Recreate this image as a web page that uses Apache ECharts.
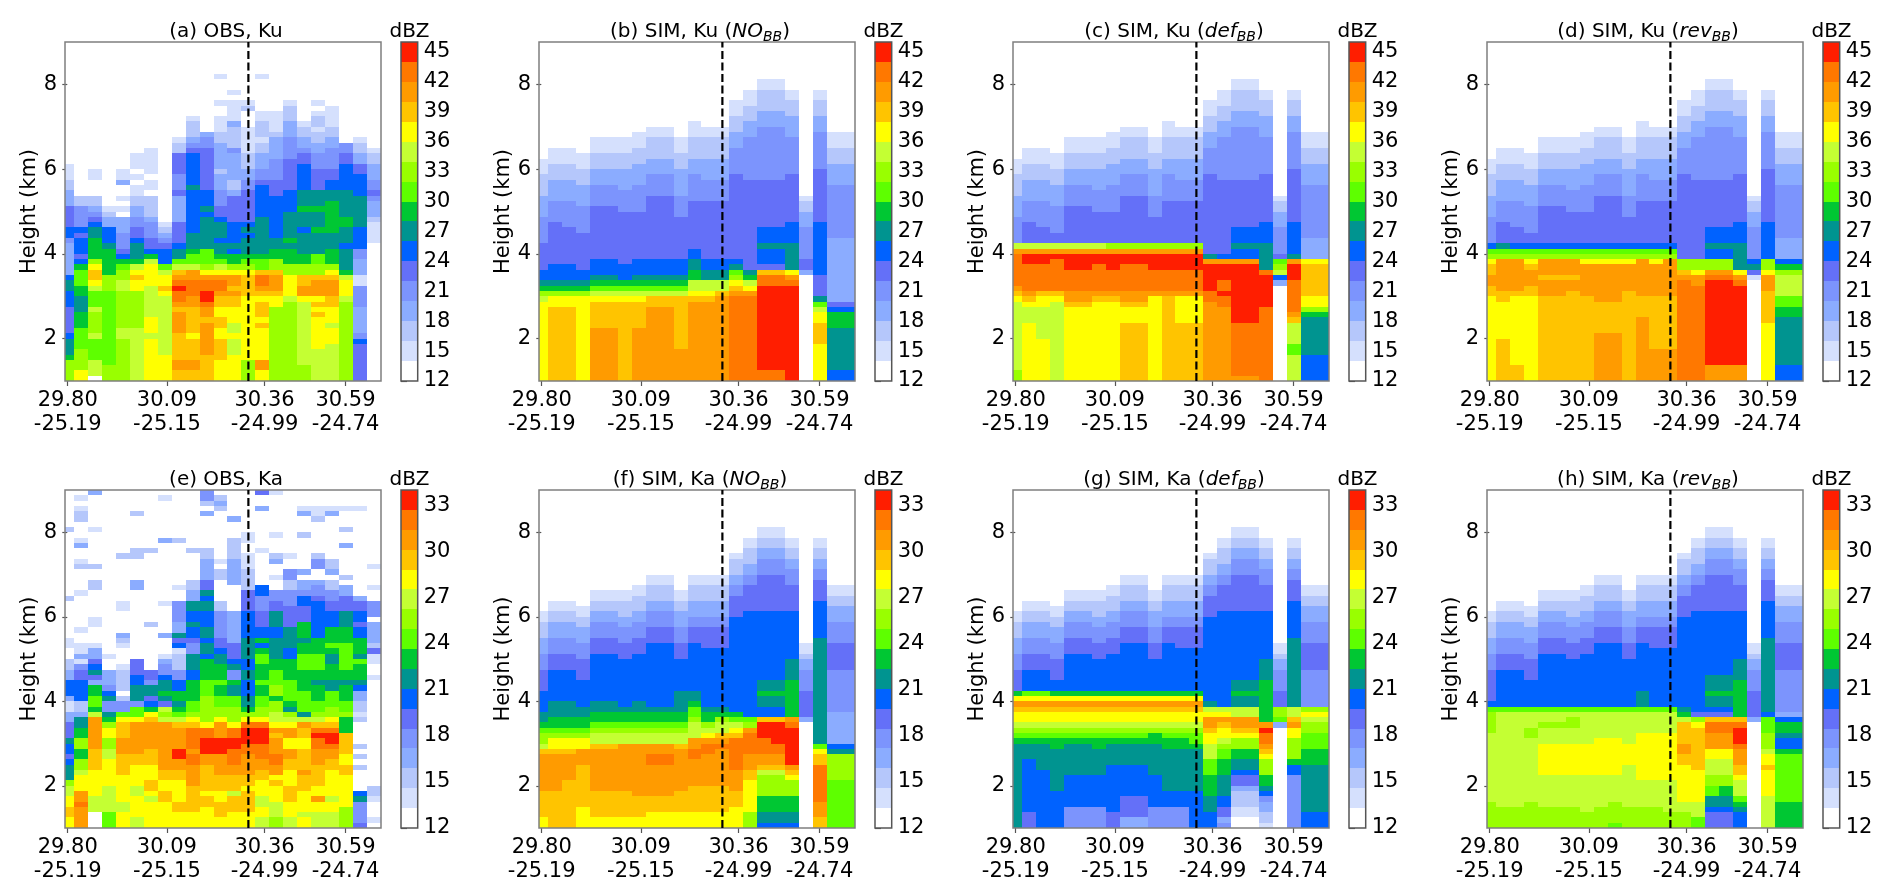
<!DOCTYPE html>
<html><head><meta charset="utf-8">
<style>html,body{margin:0;padding:0;background:#fff}#c{width:1892px;height:895px}</style>
<script src="https://cdn.jsdelivr.net/npm/echarts@6/dist/echarts.min.js"></script>
</head><body><div id="c"></div>
<script>
// Level letters A..Q are colour classes; each token "X24" = class X up to range-gate 24 (gates count upward from 1 km, 1/8 km each).
const LEVELS = ['#ffffff','#d5e0fd','#b5c7fb','#8bacff','#7c94fd','#6470f8','#0062ff','#009490','#00c733','#5eff00','#99ff00','#c4ff33','#ffff00','#ffc400','#ff9b00','#ff7800','#ff1e00'];
const X_TICKS = [0.03, 7.15, 14.16, 19.97];
const X_LAT = ['29.80','30.09','30.36','30.59'];
const X_LON = ['-25.19','-25.15','-24.99','-24.74'];
const Y_TICKS = [2,4,6,8];
const KU_TICKS = [12,15,18,21,24,27,30,33,36,39,42,45];
const KA_TICKS = [12,15,18,21,24,27,30,33];
const DASH_COLUMN = 13;
const TITLES = ['(a) OBS, Ku','(b) SIM, Ku ({i|NO}{s|BB})','(c) SIM, Ku ({i|def}{s|BB})','(d) SIM, Ku ({i|rev}{s|BB})','(e) OBS, Ka','(f) SIM, Ka ({i|NO}{s|BB})','(g) SIM, Ka ({i|def}{s|BB})','(h) SIM, Ka ({i|rev}{s|BB})'];

const ICE_KU = ['F26 E31 D35 C39 B42','F30 E34 D38 C41 B44','F29 E34 D38 C41 B44','F28 E33 D37 C40 B43','F33 E37 D40 C43 B46','F33 E37 D40 C43 B46','F32 E36 D40 C43 B46','F32 E37 D41 C44 B47','F35 E39 D42 C46 B48','F35 E39 D42 C46 B48','F31 E35 D40 C43 B46','F34 E39 D42 C46 B49','F34 E38 D42 C46 B48','F34 E38 D42 C46 B48','F39 E44 D47 C50 B53','F38 E46 D49 C52 B55','F38 E48 D51 C55 B57','F38 E48 D51 C55 B57','F39 E46 D50 C53 B55','E29 D32 C34 B35','F40 E47 D50 C53 B55','D27 E37 D41 C44 B47','D27 E37 D41 C44 B47'];
const ICE_KA = ['G26 F30 E33 D36 C39 B41','G30 F33 E36 D39 C41 B43','G30 F33 E36 D39 C41 B43','G28 F32 E35 D38 C40 B42','G33 F36 E39 D41 C43 B45','G33 F36 E39 D41 C43 B45','G32 F35 E38 D40 C43 B45','G33 F36 E39 D41 C44 B46','G35 F38 E41 D43 C46 B48','G35 F38 E41 D43 C46 B48','G32 F35 E38 D41 C43 B45','G35 F38 E40 D43 C46 B48','G34 F38 E40 D43 C46 B48','G34 F38 E40 D43 C46 B48','G40 F44 E46 D48 C51 B52','G41 F46 E48 D50 C53 B55','G41 F48 E51 D53 C55 B57','G41 F48 E51 D53 C55 B57','G41 F46 E49 D51 C53 B55','F26 E30 D32 C33 B35','G43 F47 E49 D51 C53 B55','E30 F35 E39 D42 C44 B46','E30 F35 E39 D42 C44 B46'];

const OBS_KU = [
'K4 I5 H8 G9 F14 G17 H19 G20 D26 E27 G29 F33 D36 C38 B41',
'M2 K6 J10 I13 H16 I18 J21 I22 G23 F24 G27 F28 G29 E33 C35',
'A1 L4 J8 L9 K13 L14 J17 L18 M19 N21 M22 K23 I27 H29 G30 F31 E32 D33 C35 A38 B40',
'K3 J17 K20 I25 H26 G29 D31 C32 B33',
'K8 L10 K17 L19 K21 J22 I23 G24 F25 E28 D31 A32 B33 A34 B35 A37 D38 B40',
'L10 K17 M19 N20 M21 L22 I23 H26 G27 F29 E31 D33 C35 B37 A38 B39 A40 B43',
'M8 L9 M12 L18 M22 L23 I24 G25 F27 E30 D31 C35 A36 B38 A39 B44',
'M5 L16 M17 N18 M20 L21 J22 G25 F26 E27 D28 C29 B30',
'N2 O4 N9 O13 N14 O15 P17 Q18 P19 O20 N21 L22 J23 H25 G26 F30 D35 F36 E39 F43 C45 B46',
'N2 O4 N8 M9 N14 O16 P19 O21 L22 J24 I25 H28 G36 H37 G43 F44 E45 D46 C49 B50',
'N5 O11 N12 O14 P15 Q17 P19 O20 M21 K22 J25 H31 G32 H33 G36 F44 E46 D47',
'M4 N8 M10 N12 M14 N16 O17 P19 O20 M21 L22 J23 I24 H26 G27 H30 G31 F33 E36 D39 C40 D45 C47 B50 A52 B53 A57 B58',
'M5 L8 M9 L11 M14 N16 O17 N18 O20 M21 K22 I24 G25 H26 G30 F35 D36 C38 D43 E44 C48 D49 B53 A54 B55',
'K4 M16 N20 M21 K22 J23 I24 H27 G28 H29 G30 F36 E38 D40 C43 B48 A51 C52 B53',
'M2 O4 M10 N11 M12 N15 M16 N17 O18 P20 N21 J23 I24 H31 G37 F38 E40 D43 C45 B46 C49 B51 A57 B58',
'K14 M16 N17 O20 N21 K23 I25 H27 G35 F38 E42 D46 C47 B51',
'K15 L16 M20 K22 I25 H26 I27 H32 G36 F42 E46 D49 C52 B53',
'K3 L15 M16 O18 N20 K22 I24 H28 G29 H32 I33 H36 G41 F43 E44 D46 C48 B49',
'L6 M12 N13 M14 N15 M16 O19 N20 K22 J24 H28 I29 H32 I33 H36 F40 E43 D45 C47 B48 C50 B51 A52 B53',
'L7 M10 L11 M14 N16 O19 N20 M21 K22 I25 H28 I34 H36 G38 F40 E44 D46 C48 B52',
'K15 L16 M19 L20 I21 H25 G26 H29 I31 H36 G41 F43 E45',
'F7 G8 E9 D14 E18 B20 D23 E25 G29 H35 G39 F41 D43 C45 B46',
'A26 B30 C31 D34 E35 F36 E38 D41 C43 B44'];

const NOBB_KU = ['M15 L16 K17 I18 H19 G21','N14 M16 K17 I18 H19 G22','N14 M16 K17 I18 H19 G22','M16 K17 I18 H19 G21','O10 N15 M16 L17 J18 I19 H20 G23','O10 N15 M16 L17 J18 I19 H20 G23','N15 M16 L17 J18 I19 G22','O10 N15 M16 L17 J18 I19 H20 G23','O14 N16 L17 J18 I19 H20 G23','O14 N16 L17 J18 I19 H20 G23','O6 N16 L17 J18 I19 H20 G23','O15 N16 M17 L19 I21 H23 G25','O15 N16 M17 L19 H21 G23','O16 N17 L19 H21 G23','P16 O17 N18 M19 K20 J21 H22 G23','P16 O17 M18 L19 I20 H21','P2 Q18 P20 N21 F22 G25 H26 G29','P2 Q18 P20 N21 F22 G25 H26 G29','Q18 P19 O20 M21 H26 G30','A20 D21 F23','M7 N11 M13 L14 J15 H16 F20 G30','G2 H10 I13 G14 F15','G2 H10 I13 G14 F15'];

const DEF_KU = ['K2 L15 M16 N17 O18 P24 O25 L26','M11 L14 M15 N16 O17 P22 Q24 O25 L26','M8 L14 M16 N17 P22 Q24 O25 L26','L15 M16 N17 P23 Q24 O25 L26','M14 N15 O17 P21 Q24 O25 L26','M14 N15 O17 P21 Q24 O25 L26','M15 N16 O17 P22 Q24 O25 L26','M15 N16 O17 P21 Q24 O25 K26','N11 M14 N15 O17 P22 Q24 O25 K26','N11 M14 N15 O17 P22 Q24 O25 K26','M16 O17 P21 Q24 O25 K26','N16 O17 P21 Q24 O25 K26','N11 M16 O17 P21 Q24 O25 K26','N11 M16 O17 P21 Q24 O25 K26','O15 P17 Q22 O23 H24','O14 P16 Q17 P19 Q22 O23 G24','O1 P11 Q22 O23 G25 H26 G29','O1 P11 Q22 O23 G25 H26 G29','P14 Q20 P21 H26 G30','A18 D19 G20 L21 K22 J23 F24','L5 J7 L11 N12 O13 P19 Q22 O23 H24 G30','G5 H12 I13 K14 M16 N22 M23','G5 H12 I13 K14 M16 N22 M23'];

const REV_KU = ['M16 N18 O20 N22 M23 K24 J25 G26','N8 M15 N17 O23 K24 J25 H26','N3 M16 N17 O23 K24 J25 G26','M16 N18 O21 N22 M23 K24 J25 G26','N16 O19 N20 O23 K24 J25 G26','N16 O19 N20 O23 K24 J25 G26','N17 O19 N20 O23 K24 J25 G26','N16 O22 M23 K24 J25 G26','O9 N15 O22 M23 K24 J25 G26','O9 N15 O22 M23 K24 J25 G26','N17 O22 M23 K24 J25 G26','O12 N16 O23 K24 J25 G26','O6 N16 O22 M23 K24 J25 G26','O6 N16 O23 K24 J25 G26','P19 O20 N21 K23','P18 O20 M21 K23','O3 Q19 P20 O21 K23 G25 H26 G29','O3 Q19 P20 O21 K23 G25 H26 G29','O3 Q18 P19 O20 M21 H26 G30','A19 B20 F21 H22 G23','M11 N17 O20 M21 K23 G30','G3 H12 I14 J16 L20 K21 I22 G23','G3 H12 I14 J16 L20 K21 I22 G23'];

const OBS_KA = [
'M2 N4 M6 L8 K9 H12 G13 F14 G16 H17 F20 D22 B24 D25 G28 D30 C32 A34 B36 A43 C44 A56 C57',
'O4 P5 O7 M10 L11 K13 I15 K17 I19 H21 D22 C24 G28 F30 E31 B32 D33 B35 A37 B38 A44 B45 A49 C50 B51 A53 D54 B55 A58 C60 B61 A62 B63',
'A3 L6 M11 N15 O21 L22 I23 J25 I27 D28 F29 H30 G31 F32 D34 B35 A38 B40 A45 C47 A49 C50 A56 B57 A63 D64',
'J3 L8 M13 L15 K17 M19 K20 I21 H22 E24 H25 G26 E27 D30 A32 B33',
'M3 L5 M10 N14 O17 N20 M21 J22 E24 C25 A26 C30 B31 A34 B35 C36 D37 A41 B43 A51 C52',
'L2 M6 L8 M12 N14 O20 M21 J23 E24 H27 G29 F32 A45 D47 A51 C53 A59 C60',
'M5 L6 M7 N9 M12 N15 O20 N21 M22 I23 G24 F25 H27 E28 F30 A38 C39 A52 C53',
'M5 N7 M9 N11 O20 L21 K22 L23 F24 H25 I26 H28 G29 E31 D32 B33 A36 D37 A42 B43 A54 D55 A62 B63',
'M3 N5 M9 N11 O13 Q15 O19 N20 L21 J22 I23 H24 I26 G28 E30 C33 B34 G35 F36 H37 D39 E43 A45 B46 A54 C55',
'M3 N8 O12 P14 O15 P19 N20 M21 K22 J24 I28 G30 H33 E35 F36 G38 H39 G41 H43 D45 C47 A52 C53',
'M4 N6 M7 N12 O14 Q17 P19 M20 K25 J28 I32 G33 H35 G36 H38 G41 H43 G44 H45 F47 D51 C53 A59 D60 A61 C62 E64',
'M2 N5 M7 N10 O14 Q17 O20 M21 K23 J25 I27 J28 I31 H33 G34 F36 E41 C43 A47 C49 A50 B51 A60 C61 D62 C63',
'M3 N6 L7 N10 O12 P15 Q17 P19 M20 K23 J25 H27 I28 E30 H31 G32 F35 D41 A46 D51 C55 A58 D59',
'M3 N7 M8 N10 O14 P16 Q19 P20 M21 K22 I23 H25 G28 H30 G32 H36 G41 F45 C49 B52 A54 B56',
'L2 M4 L6 M9 N11 O13 P16 Q19 P20 M21 K23 J25 I27 J28 I31 J33 I34 G35 I36 G38 F41 E44 G46 A52 B53 A60 D61 A63 F64',
'K2 L5 M8 N9 M10 O12 P14 O17 N18 O19 M20 L22 K24 I25 K27 J30 I32 H36 G38 H41 F43 E45 A47 B48 A50 D51 C52 A55 B56 A63 B64',
'L2 M5 N8 M11 N13 O15 M17 O19 M20 L21 K22 H23 I24 J28 I32 G34 H38 F42 E45 C47 E49 A51 B52',
'M2 L3 M7 N10 O11 N15 M17 N19 O20 L21 H22 J26 I30 J33 I35 H36 I39 F42 G44 E45 D47 A48 D49 A55 C56 A59 D60 B61',
'L3 M5 O6 M8 N12 O15 P17 Q18 P19 N20 L21 K22 J24 I27 H28 I30 J33 I36 G43 F44 E46 D47 A49 E51 C52 A58 C59 B61',
'L3 M5 L6 M11 N13 O15 P16 Q18 P19 N20 M21 K23 J26 H28 I31 H33 I34 J35 I38 G41 F43 E45 C47 A48 D49 C51 A59 D60 B61',
'K4 M10 N12 M14 N18 I21 K22 J24 I27 H28 I30 J35 I38 H41 F44 D46 A47 C48 A53 D54 A56 C57 A60 B61',
'F1 E5 H6 G7 A11 C12 A13 C14 A15 C16 A20 C21 B22 C24 D26 G27 H28 I31 J32 H33 I36 G38 F39 G41 F43 D44 A60 B61',
'A1 B2 A5 B6 C8 A28 B29 A31 B33 F34 C35 D39 A40 E43 A45 B46 A49 B50'];

const NOBB_KA = ['M2 N7 O14 N15 L16 K18 J19 I20 H22','N7 O14 N15 M17 K18 J19 I21 H24','N9 O14 N15 M17 K18 J19 I21 H24','M4 N12 O15 M17 K18 J19 I21 H23','M2 N7 O15 N16 L18 K19 J20 I22 H24','M2 N7 O15 N16 L18 K19 J20 I22 H24','M2 N7 O16 L18 K19 J20 I22 H23','M2 N6 O16 L18 K19 J20 I22 H24','M3 N6 O12 P14 O16 L18 K19 J20 I22 H23','M3 N6 O12 P14 O16 L18 K19 J20 I22 H23','M3 N7 O15 N16 L18 K19 J20 I22 H26','M3 N8 O13 P15 O17 L20 K21 J23 I24 H26','M3 N8 O14 P16 O17 M18 L19 K20 I22 H23','M3 N8 O15 P16 O17 N18 L20 K21 I22 H23','M4 N7 O11 P17 N18 M19 L20 J21 I22','K3 M9 N11 O14 P18 O19 K20 J21','G1 H3 I6 K10 L11 N12 O14 P17 Q20 N21 G23 H25 I26 H28','G1 H3 I6 K10 L11 N12 O14 P16 Q20 N21 G23 H25 I26 H28','G1 H3 I6 K9 M10 N11 O12 Q19 P20 O21 I28 H32','A20 D21','N2 O5 P12 N14 M15 J16 H36','J9 K14 H15 G16 D22','J9 K14 H15 G16 D22'];

const DEF_KA = ['H16 I17 J18 K19 L20 M22 N23 O24 M25 I26','F3 G13 H16 I17 J18 K19 L20 M22 N23 O24 M25 J26','G11 H16 I17 J18 K19 L20 M22 N23 O24 M25 J26','G7 H15 I17 J18 K19 L20 M22 N23 O24 M25 I26','E4 G10 H16 I17 J18 K19 L20 M22 N23 O24 M25 I26','E4 G10 H16 I17 J18 K19 L20 M22 N23 O24 M25 I26','E4 G10 H15 I17 J18 K19 L20 M22 N23 O24 M25 I26','F3 G12 H16 I17 J18 K19 L20 M22 N23 O24 M25 I26','D2 F6 G12 H16 I17 J18 K19 L20 M22 N23 O24 M25 I26','D2 F6 G12 H16 I17 J18 K19 L20 M22 N23 O24 M25 I26','E4 G10 H16 I18 J18 K19 L20 M22 N23 O24 M25 I26','E4 G7 H15 I17 J18 K19 L20 M22 N23 O24 M25 I26','E4 G7 H15 I17 J18 K19 L20 M22 N23 O24 M25 I26','G7 H15 I16 J18 K19 L20 M22 N23 O24 M25 I26','G3 H6 I10 J13 L16 M18 N19 O21 M22 L23 H24','E1 D2 F4 G6 H10 I13 J15 K16 L17 M19 N20 O21 M22 L23 G24','A2 B4 C7 D8 F10 G11 H13 I15 K17 M18 N19 O21 L23 H25 I26 H28','A2 B4 C7 D8 F10 G11 H13 I15 K17 M18 N19 O21 L23 H25 I26 H28','B1 C3 D5 E6 G7 H8 I10 K13 M14 N15 O16 P18 Q19 O20 I28 H32','A19 D20 J21 K23','E10 G12 I13 K17 M19 O20 N21 L23 H36','G3 H12 I15 J18 K20 L21 M22 K23','G3 H12 I15 J18 K20 L21 M22 K23'];

const REV_KA = ['K5 L18 K22 J23 G24 F30','K4 L22 J23','K4 L22 J23','K5 L17 K19 L22 J23','K4 L10 M16 L19 K20 L22 J23','K4 L10 M16 L19 K20 L22 J23','K4 L10 M16 L19 K21 L22 J23','K3 L10 M16 L22 J23','K4 L10 M17 L22 J23','J1 K5 L10 M17 L22 J23','K4 L12 M16 L22 J23','K4 L9 M18 L22 J23 H26','K4 L9 M18 L22 J23','K3 L9 M18 L22 J23','K3 L5 M12 N14 O16 N20 L21 I22 H23','J2 L5 M11 N19 M20 K21 F22','F3 G4 H6 J8 K10 L13 M15 O18 P20 N21 F22 G23 H25 I26 H29','F3 G4 H6 I8 K10 L13 M15 O18 P20 N21 F22 G23 H25 I26 H29','G3 H4 I5 J6 L9 M10 N12 O15 P16 Q19 P20 N21 I28 H32','A20 D21','L6 M11 N12 M14 L15 K18 J21 G22 H36','I5 J14 I15 G17 H18 I20 G21 D22','I5 J14 I15 G17 H18 I20 G21 D22'];

const FONT = '"DejaVu Sans"';
const KM_PER_ROW = 0.125;
const BANDS = {ku:[12,46], ka:[12,34]};
const PANELS = [
 {low:OBS_KU,ice:null,b:'ku'},{low:NOBB_KU,ice:ICE_KU,b:'ku'},{low:DEF_KU,ice:ICE_KU,b:'ku'},{low:REV_KU,ice:ICE_KU,b:'ku'},
 {low:OBS_KA,ice:null,b:'ka'},{low:NOBB_KA,ice:ICE_KA,b:'ka'},{low:DEF_KA,ice:ICE_KA,b:'ka'},{low:REV_KA,ice:ICE_KA,b:'ka'}];

function stepOf(b){return (BANDS[b][1]-BANDS[b][0])/LEVELS.length;}
function cells(p){
  const out=[],step=stepOf(p.b),lo=BANDS[p.b][0];
  p.low.forEach((txt,col)=>{
    const full=txt+(p.ice?' '+p.ice[col]:'');
    let cur=0;
    full.split(' ').forEach(tok=>{
      const lvl=tok.charCodeAt(0)-65, top=+tok.slice(1);
      for(;cur<top;cur++){ if(lvl>0) out.push([col,1+cur*KM_PER_ROW,lo+(lvl+0.5)*step]); }
    });
  });
  return out;
}
function cellRender(b){
  const step=stepOf(b),lo=BANDS[b][0];
  return function(params,api){
    const c=api.value(0),h=api.value(1),v=api.value(2);
    const a=api.coord([c-0.5,h+KM_PER_ROW]),z=api.coord([c+0.5,h]);
    const cs=params.coordSys;
    const x1=Math.round(Math.max(a[0],cs.x)),x2=Math.round(Math.min(z[0],cs.x+cs.width));
    const y1=Math.round(Math.max(a[1],cs.y)),y2=Math.round(Math.min(z[1],cs.y+cs.height));
    return {type:'rect',shape:{x:x1,y:y1,width:x2-x1,height:y2-y1},style:{fill:LEVELS[Math.floor((v-lo)/step)]}};
  };
}
function barRender(b){
  const step=stepOf(b);
  return function(params,api){
    const a=api.coord([0,api.value(0)+step]),z=api.coord([1,api.value(0)]);
    const x1=Math.round(a[0]),x2=Math.round(z[0]),y1=Math.round(a[1]),y2=Math.round(z[1]);
    return {type:'rect',shape:{x:x1,y:y1,width:x2-x1,height:y2-y1},style:{fill:LEVELS[api.value(1)]}};
  };
}
const LEFTS=[65,539,1013,1487],TOPS=[42,490],HEIGHTS=[339,338];
const XMIN=-0.165,XMAX=22.52;
const grid=[],xAxis=[],yAxis=[],series=[],title=[];
const axisText={color:'#000',fontFamily:FONT,fontSize:21};
PANELS.forEach((p,i)=>{
  const r=i<4?0:1,l=LEFTS[i%4],t=TOPS[r],h=HEIGHTS[r];
  const g=grid.length;
  grid.push({left:l,top:t,width:316,height:h,show:true,z:3,backgroundColor:'transparent',borderColor:'#7f7f7f',borderWidth:1.5});
  xAxis.push({gridIndex:g,type:'value',min:XMIN,max:XMAX,position:'bottom',
    axisLine:{show:false},splitLine:{show:false},minInterval:1,
    axisTick:{show:true,length:5,lineStyle:{color:'#555',width:1.2},customValues:X_TICKS},
    axisLabel:Object.assign({},axisText,{show:true,margin:8,lineHeight:24,customValues:X_TICKS,hideOverlap:false,
      showMinLabel:true,showMaxLabel:true,
      formatter:v=>{const k=X_TICKS.indexOf(v);return k<0?'':X_LAT[k]+'\n'+X_LON[k];}})});
  yAxis.push({gridIndex:g,type:'value',min:1,max:9,position:'left',
    name:'Height (km)',nameLocation:'middle',nameGap:25,nameTextStyle:{color:'#000',fontFamily:FONT,fontSize:21},
    axisLine:{show:false},splitLine:{show:false},
    axisTick:{show:true,length:5,lineStyle:{color:'#555',width:1.2},customValues:Y_TICKS},
    axisLabel:Object.assign({},axisText,{margin:8,customValues:Y_TICKS})});
  series.push({type:'custom',name:'panel'+i,coordinateSystem:'cartesian2d',xAxisIndex:g,yAxisIndex:g,z:2,silent:true,animation:false,
    clip:true,encode:{x:0,y:1},data:cells(p),renderItem:cellRender(p.b),progressive:0});
  series.push({type:'line',xAxisIndex:g,yAxisIndex:g,z:4,silent:true,animation:false,symbol:'none',
    data:[[DASH_COLUMN,1],[DASH_COLUMN,9]],lineStyle:{color:'#000',width:2.2,type:[8,3.5]}});
  // colourbar
  const cb=grid.length, cbl=l+336, band=BANDS[p.b], ticks=p.b==='ku'?KU_TICKS:KA_TICKS, step=stepOf(p.b);
  grid.push({left:cbl,top:t,width:16.7,height:h,show:true,z:3,backgroundColor:'transparent',borderColor:'#555',borderWidth:1.5});
  xAxis.push({gridIndex:cb,type:'value',min:0,max:1,show:false});
  yAxis.push({gridIndex:cb,type:'value',min:band[0],max:band[1],position:'right',
    axisLine:{show:false},splitLine:{show:false},
    axisTick:{show:true,length:6,lineStyle:{color:'#555',width:1.2},customValues:ticks},
    axisLabel:Object.assign({},axisText,{margin:6,customValues:ticks})});
  series.push({type:'custom',name:'bar'+i,coordinateSystem:'cartesian2d',xAxisIndex:cb,yAxisIndex:cb,z:2,silent:true,animation:false,
    encode:{y:0},data:LEVELS.map((c,k)=>[band[0]+k*step,k]),renderItem:barRender(p.b),clip:false});
  // titles
  title.push({text:TITLES[i],left:l+156,top:t-27,textAlign:'center',
    textStyle:{color:'#000',fontFamily:FONT,fontSize:20,fontWeight:'normal',lineHeight:24,
      rich:{i:{fontFamily:FONT,fontSize:20,fontStyle:'italic',lineHeight:24,color:'#000'},
            s:{fontFamily:FONT,fontSize:14,fontStyle:'italic',lineHeight:24,verticalAlign:'bottom',padding:[6,0,0,0],color:'#000'}}}});
  title.push({text:'dBZ',left:cbl+3.5,top:t-27,textAlign:'center',
    textStyle:{color:'#000',fontFamily:FONT,fontSize:20,fontWeight:'normal',lineHeight:24}});
});
const chart=echarts.init(document.getElementById('c'),null,{renderer:'canvas',width:1892,height:895});
chart.setOption({animation:false,backgroundColor:'#fff',title,grid,xAxis,yAxis,series,tooltip:{show:false},legend:{show:false}});
</script></body></html>
